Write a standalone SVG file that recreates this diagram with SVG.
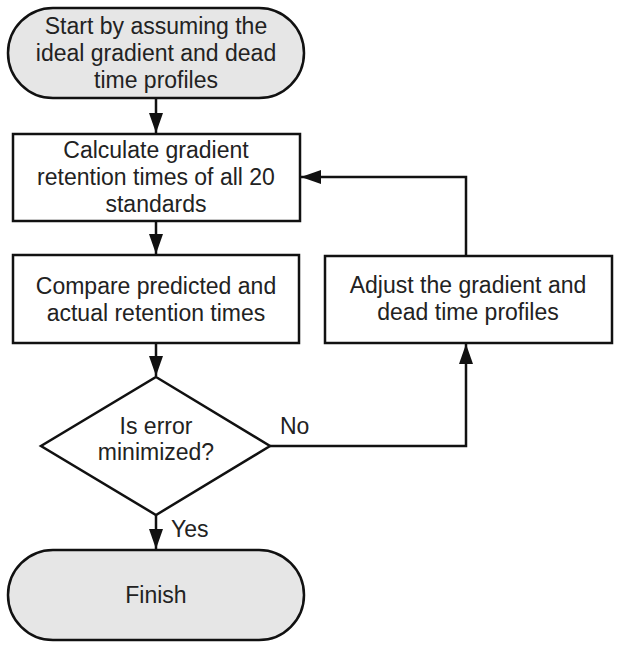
<svg xmlns="http://www.w3.org/2000/svg" width="621" height="650" viewBox="0 0 621 650">
<style>
.s{fill:none;stroke:#111;stroke-width:2.5}
.term{fill:#e6e6e6;stroke:#111;stroke-width:2.5}
.box{fill:#fff;stroke:#111;stroke-width:2.5}
text{font-family:"Liberation Sans",Arial,sans-serif;font-size:23px;fill:#222;text-anchor:middle}
.l{text-anchor:start}
</style>
<defs>
<marker id="ah2" viewBox="0 0 20 14" refX="20" refY="7" markerWidth="20" markerHeight="14" markerUnits="userSpaceOnUse" orient="auto">
<path d="M0,0 L20,7 L0,14 z" fill="#111"/>
</marker>
</defs>
<rect width="621" height="650" fill="#fff"/>
<g id="start">
<rect class="term" x="8" y="8" width="296" height="90" rx="45" ry="45"/>
<text x="156" y="34">Start by assuming the</text>
<text x="156" y="61">ideal gradient and dead</text>
<text x="156" y="88">time profiles</text>
</g>
<g id="calc">
<rect class="box" x="13" y="134" width="287" height="87"/>
<text x="156" y="158">Calculate gradient</text>
<text x="156" y="185">retention times of all 20</text>
<text x="156" y="212">standards</text>
</g>
<g id="compare">
<rect class="box" x="13" y="255" width="286" height="88"/>
<text x="156" y="294">Compare predicted and</text>
<text x="156" y="321">actual retention times</text>
</g>
<g id="decision">
<polygon class="box" points="156,377 270,446 156,515 41,446"/>
<text x="156" y="434">Is error</text>
<text x="156" y="460">minimized?</text>
</g>
<g id="finish">
<rect class="term" x="8" y="550" width="296" height="90" rx="45" ry="45"/>
<text x="156" y="603">Finish</text>
</g>
<g id="adjust">
<rect class="box" x="325" y="256" width="287" height="87"/>
<text x="468" y="293">Adjust the gradient and</text>
<text x="468" y="320">dead time profiles</text>
</g>
<g id="connectors">
<line class="s" x1="156" y1="98" x2="156" y2="133" marker-end="url(#ah2)"/>
<line class="s" x1="156" y1="221" x2="156" y2="254" marker-end="url(#ah2)"/>
<line class="s" x1="156" y1="343" x2="156" y2="376" marker-end="url(#ah2)"/>
<line class="s" x1="156" y1="515" x2="156" y2="549" marker-end="url(#ah2)"/>
<polyline class="s" points="270,446 466,446 466,344" marker-end="url(#ah2)"/>
<polyline class="s" points="466,256 466,177 301,177" marker-end="url(#ah2)"/>
<text class="l" x="280" y="434">No</text>
<text class="l" x="171" y="537">Yes</text>
</g>
</svg>
